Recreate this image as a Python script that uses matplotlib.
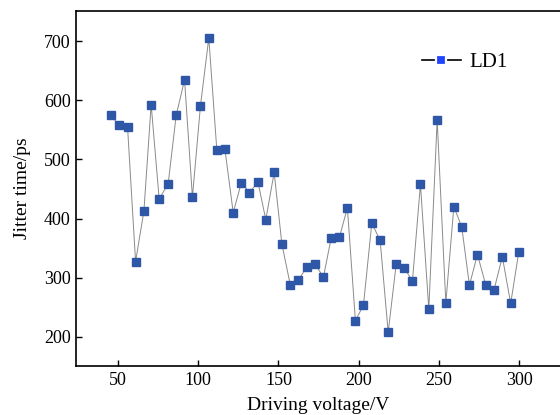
import matplotlib
matplotlib.use("Agg")
import matplotlib.pyplot as plt
from matplotlib.lines import Line2D

plt.rcParams["font.family"] = ["Liberation Serif", "DejaVu Serif"]
plt.rcParams["mathtext.fontset"] = "stix"

# driving voltage (V) and jitter (ps)
voltage = [45.4, 50.8, 56.0, 61.0, 66.2, 70.7, 75.7, 81.3, 86.3, 91.5,
           96.4, 101.4, 106.6, 111.6, 116.6, 121.8, 126.9, 131.9, 137.2, 142.1,
           147.3, 152.1, 157.3, 162.4, 167.7, 172.6, 178.0, 182.8, 187.9, 192.9,
           197.9, 202.9, 208.1, 213.3, 218.3, 223.3, 228.4, 233.4, 238.4, 243.6,
           248.8, 254.2, 259.2, 264.1, 268.9, 273.9, 279.1, 284.2, 289.4, 294.6,
           299.6]
jitter = [575, 558, 555, 327, 413, 593, 433, 459, 575, 635,
          436, 591, 706, 516, 518, 410, 461, 444, 462, 398,
          478, 357, 288, 296, 318, 323, 301, 367, 368, 418,
          227, 253, 392, 363, 207, 323, 316, 294, 458, 246,
          567, 257, 420, 386, 287, 339, 287, 279, 335, 256,
          343]

xticks = [50, 100, 150, 200, 250, 300]
yticks = [200, 300, 400, 500, 600, 700]

fig = plt.figure(figsize=(5.6, 4.15), dpi=100)
ax = fig.add_axes([0.136, 0.118, 0.864, 0.856])

ax.plot(voltage, jitter, color="#8a8a8a", lw=0.7, zorder=2)
ax.plot(voltage, jitter, ls="none", marker="s", ms=6,
        mfc="#2f57a8", mec="#2f57a8", zorder=3)

ax.set_xlim(24, 325.3)
ax.set_ylim(150, 752)
ax.set_xticks(xticks)
ax.set_yticks(yticks)
ax.tick_params(direction="in", length=4, width=1, labelsize=13, pad=4)
ax.spines["right"].set_visible(False)
for s in ["left", "bottom", "top"]:
    ax.spines[s].set_linewidth(1.2)

ax.set_xlabel("Driving voltage/V", fontsize=14, labelpad=6)
ax.set_ylabel("Jitter time/ps", fontsize=14, labelpad=9)

handle = Line2D([], [], color="black", lw=1.2, marker="s", ms=6.5,
                mfc="#1f45ff", mec="white", mew=1.6)
ax.legend([handle], ["LD1"], loc="upper left", bbox_to_anchor=(0.675, 0.935),
          frameon=False, fontsize=15, handlelength=1.9, handletextpad=0.4)

fig.savefig("out.png", dpi=100)
